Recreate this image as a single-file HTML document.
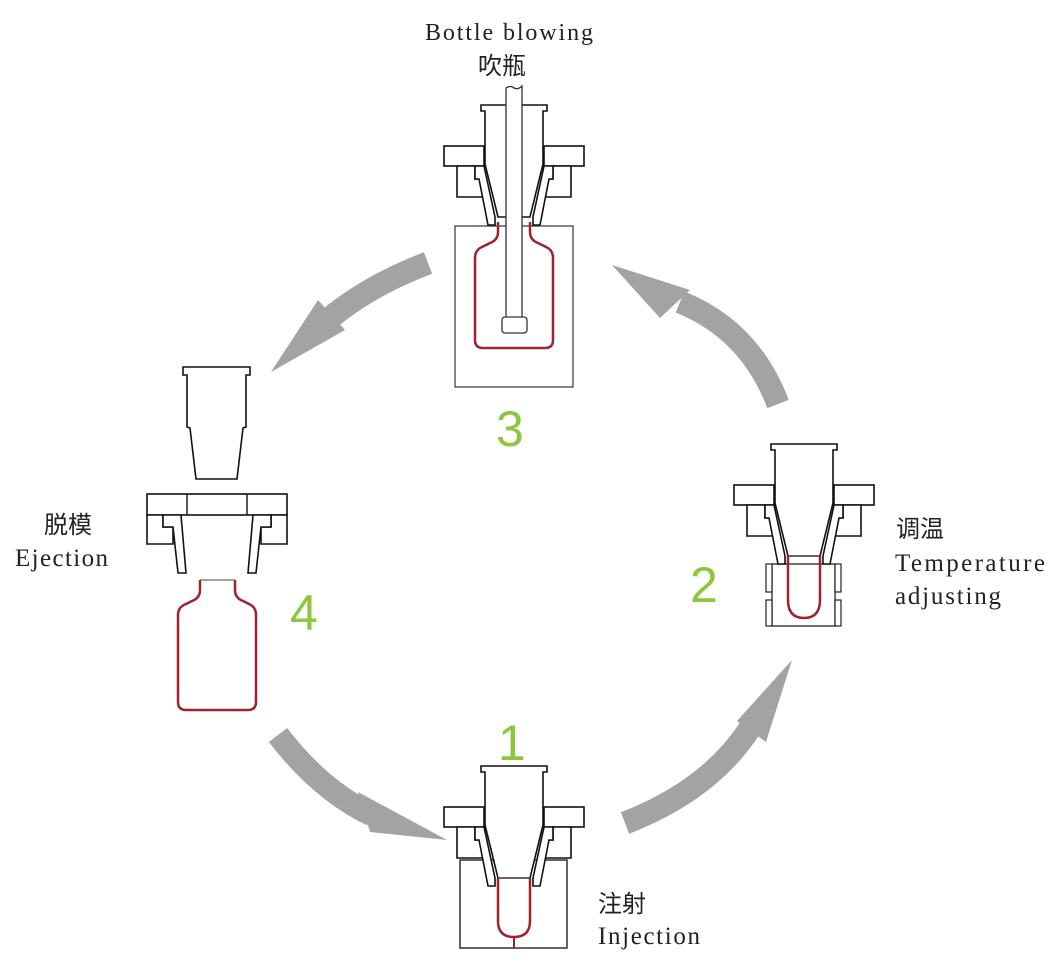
<!DOCTYPE html>
<html><head><meta charset="utf-8"><style>
html,body{margin:0;padding:0;background:#fff;}
svg{display:block;}
.t{font-family:"Liberation Serif","Noto Serif CJK SC",serif;fill:#222;}
.c{font-family:"Liberation Sans","Noto Sans CJK SC",sans-serif;fill:#222;}
.n{font-family:"Liberation Sans",sans-serif;fill:#8dc63f;}
</style></head><body>
<svg width="1060" height="977" viewBox="0 0 1060 977" xmlns="http://www.w3.org/2000/svg">
<defs>
<g id="half" fill="#fff" stroke="#111" stroke-width="1.6" stroke-linejoin="miter">
  <rect x="-70" y="41" width="40" height="20"/>
  <polygon points="-57,61 -39,61 -39,74 -30,74 -30,92 -57,92"/>
  <polygon points="-39,61 -30,61 -19,112 -19,120 -26,120 -35,74 -39,74"/>
</g>
<g id="head">
  <use href="#half"/>
  <use href="#half" transform="scale(-1,1)"/>
  <path d="M-33,0 H33 V6 H29 V59 L16,112 H-16 L-29,59 V6 H-33 Z" fill="#fff" stroke="#111" stroke-width="1.6"/>
</g>
</defs>

<!-- arrows -->
<g fill="none" stroke="#a3a3a3" stroke-width="23" stroke-linecap="butt">
  <path d="M428,263 Q370,285 330,318"/>
  <path d="M625,823 Q710,790 750,728"/>
  <path d="M778,404 Q750,330 680,302"/>
  <path d="M278,735 Q320,790 372,815"/>
</g>
<g fill="#a3a3a3">
  <polygon points="271,372 318,300 345,330"/>
  <polygon points="792,660 737,721 766,742"/>
  <polygon points="612,265 660,318 690,290"/>
  <polygon points="447,840 358,792 370,832"/>
</g>

<!-- Station 3 -->
<rect x="455" y="226" width="118" height="161" fill="#fff" stroke="#333" stroke-width="1.2"/>
<path d="M498,222 V232 Q498,240 490,243 L482,247 Q475,250 475,258 V340 Q475,348 483,348 H545 Q553,348 553,340 V258 Q553,250 546,247 L538,243 Q530,240 530,232 V222" fill="none" stroke="#a0222e" stroke-width="2.5"/>
<use href="#head" transform="translate(514,105)"/>
<path d="M506,88 Q511,85 514,88 Q518,90 522,86 V318 H506 Z" fill="#fff" stroke="#333" stroke-width="1.3"/>
<rect x="502" y="317" width="25" height="16" rx="3" fill="#fff" stroke="#333" stroke-width="1.3"/>

<!-- Station 2 -->
<rect x="772" y="564" width="63" height="62" fill="#fff" stroke="#222" stroke-width="1.3"/>
<rect x="766" y="564" width="6" height="28" fill="#fff" stroke="#222" stroke-width="1.2"/>
<rect x="766" y="600" width="6" height="26" fill="#fff" stroke="#222" stroke-width="1.2"/>
<rect x="835" y="564" width="6" height="28" fill="#fff" stroke="#222" stroke-width="1.2"/>
<rect x="835" y="600" width="6" height="26" fill="#fff" stroke="#222" stroke-width="1.2"/>
<use href="#head" transform="translate(804,444)"/>
<path d="M788,556 V600 Q788,618 804,618 Q820,618 820,600 V556" fill="none" stroke="#a0222e" stroke-width="2.5"/>
<line x1="788" y1="556" x2="820" y2="556" stroke="#444" stroke-width="1"/>

<!-- Station 1 -->
<rect x="460" y="860" width="107" height="88" fill="#fff" stroke="#222" stroke-width="1.4"/>
<use href="#head" transform="translate(514,766)"/>
<path d="M498,878 V921 Q498,937 514,937 Q530,937 530,921 V878" fill="none" stroke="#a0222e" stroke-width="2.5"/>
<line x1="514" y1="937" x2="514" y2="948" stroke="#a0222e" stroke-width="2"/>
<line x1="498" y1="878" x2="530" y2="878" stroke="#444" stroke-width="1"/>

<!-- Station 4 -->
<path d="M183,367 H250 V375 H246 V427 L243,428 L237,479 H196 L190,428 L187,427 V375 H183 Z" fill="#fff" stroke="#111" stroke-width="1.6"/>
<rect x="147" y="494" width="140" height="21" fill="#fff" stroke="#111" stroke-width="1.6"/>
<line x1="187" y1="494" x2="187" y2="515" stroke="#111" stroke-width="1.4"/>
<line x1="247" y1="494" x2="247" y2="515" stroke="#111" stroke-width="1.4"/>
<g fill="#fff" stroke="#111" stroke-width="1.6">
  <polygon points="147,515 163,515 163,527 173,527 173,544 147,544"/>
  <polygon points="163,515 181,515 186,573 178,573 173,527 163,527"/>
  <polygon points="287,515 271,515 271,527 261,527 261,544 287,544"/>
  <polygon points="271,515 253,515 248,573 256,573 261,527 271,527"/>
</g>
<line x1="200" y1="580" x2="235" y2="580" stroke="#444" stroke-width="1"/>
<path d="M200,580 V590 Q200,598 192,601 L186,604 Q178,607 178,615 V702 Q178,710 186,710 H248 Q256,710 256,702 V615 Q256,607 249,604 L243,601 Q235,598 235,590 V580" fill="none" stroke="#a0222e" stroke-width="2.5"/>

<!-- labels -->
<text class="t" x="425" y="40" font-size="24" textLength="168">Bottle blowing</text>
<text class="c" x="478" y="74" font-size="24">吹瓶</text>
<text class="n" x="496" y="446" font-size="50">3</text>
<text class="n" x="690" y="602" font-size="50">2</text>
<text class="n" x="498" y="760" font-size="50">1</text>
<text class="n" x="290" y="630" font-size="50">4</text>
<text class="c" x="44" y="533" font-size="24">脱模</text>
<text class="t" x="15" y="566" font-size="25" textLength="93">Ejection</text>
<text class="c" x="896" y="537" font-size="24">调温</text>
<text class="t" x="895" y="571" font-size="25" textLength="150">Temperature</text>
<text class="t" x="895" y="604" font-size="25" textLength="106">adjusting</text>
<text class="c" x="598" y="912" font-size="24">注射</text>
<text class="t" x="598" y="944" font-size="25" textLength="102">Injection</text>
</svg>
</body></html>
